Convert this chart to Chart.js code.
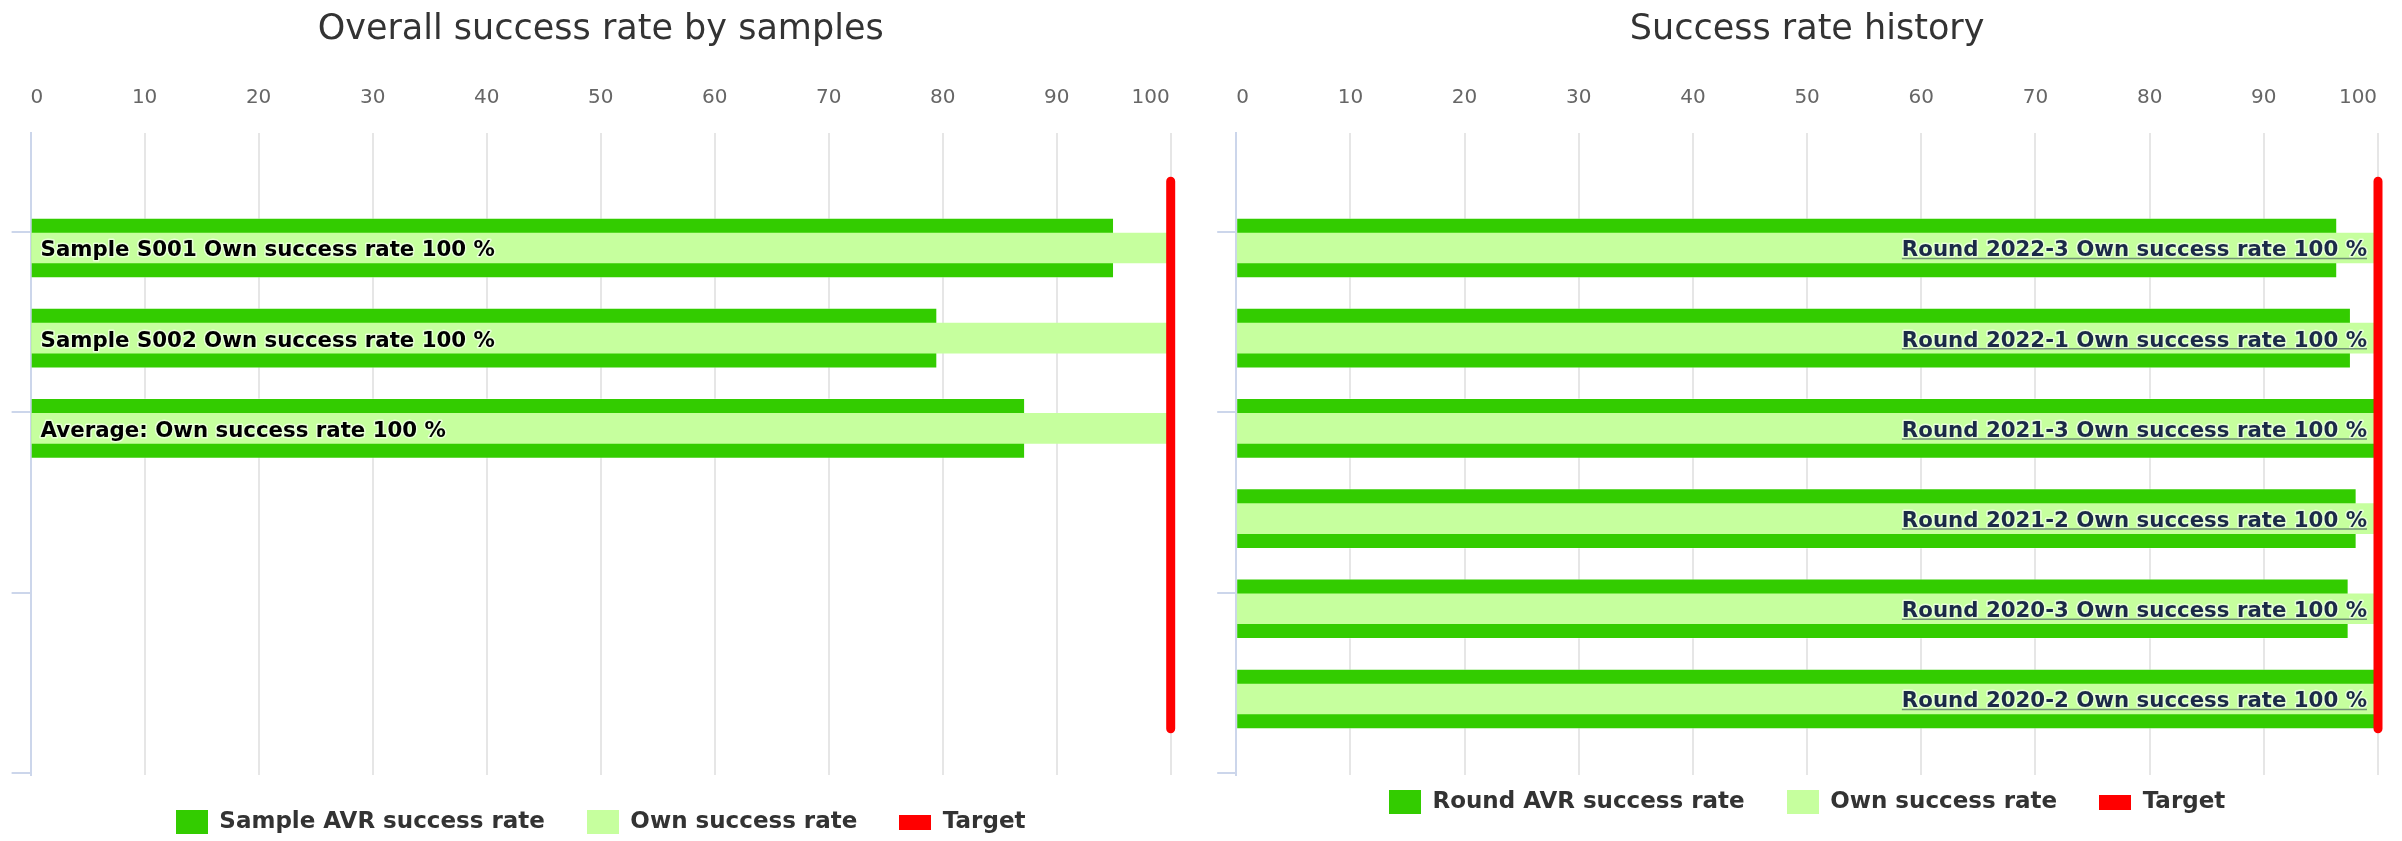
<!DOCTYPE html>
<html>
<head>
<meta charset="utf-8">
<title>Success rate</title>
<script src="https://cdn.jsdelivr.net/npm/chart.js@4.4.1/dist/chart.umd.min.js"></script>
<style>
  html, body { margin: 0; padding: 0; background: #fff; }
  .charts { display: flex; width: 2402px; height: 841px; }
  canvas { display: block; }
</style>
</head>
<body>
<div class="charts">
  <canvas id="SampleRateChart" width="1201" height="841"></canvas>
  <canvas id="RoundRateChart" width="1201" height="841"></canvas>
</div>
<script>
// overall success rate by samples
const sampleLabels = ["Sample S001", "Sample S002", "Average:"];
const sampleAvrRate = [95.0, 79.5, 87.2];
const sampleOwnRate = [100, 100, 100];

// success rate history
const roundLabels = ["Round 2022-3", "Round 2022-1", "Round 2021-3", "Round 2021-2", "Round 2020-3", "Round 2020-2"];
const roundAvrRate = [96.4, 97.6, 100, 98.1, 97.4, 100];
const roundOwnRate = [100, 100, 100, 100, 100, 100];

const targetRate = 100;
const targetSpan = [-0.74, 5.33]; // rows covered by the target line
const rowRange = [-1.275, 5.843];
const rowTicks = [-0.18, 1.82, 3.82, 5.82];

Chart.defaults.font.family = "'DejaVu Sans', sans-serif";
Chart.defaults.color = "#666666";

function legendIcon(color, w, h) {
  const c = document.createElement("canvas");
  c.width = w;
  c.height = h;
  const g = c.getContext("2d");
  g.fillStyle = color;
  g.fillRect(0, 0, w, h);
  return c;
}

// text inside the "own" bars
const rowLabels = {
  id: "rowLabels",
  afterDatasetsDraw: function (chart, args, opts) {
    const ctx = chart.ctx;
    const ds = chart.data.datasets[opts.dataset];
    const meta = chart.getDatasetMeta(opts.dataset);
    ctx.save();
    ctx.font = "bold 21.3px 'DejaVu Sans'";
    ctx.textBaseline = "alphabetic";
    ctx.textAlign = "left";
    ctx.lineJoin = "round";
    meta.data.forEach(function (bar, i) {
      const text = chart.data.labels[i] + " " + ds.label + " " + ds.data[i].x + " %";
      const w = ctx.measureText(text).width;
      const x = opts.align === "right" ? bar.x - 11 - w : bar.base + 9;
      const y = bar.y + 8.5;
      ctx.lineWidth = 3;
      ctx.strokeStyle = "rgba(255,255,255,0.6)";
      ctx.strokeText(text, x, y);
      ctx.fillStyle = opts.color;
      ctx.fillText(text, x, y);
      if (opts.underline) {
        ctx.beginPath();
        ctx.lineWidth = 1.5;
        ctx.strokeStyle = "rgba(27,42,72,0.5)";
        ctx.moveTo(x, y + 2);
        ctx.lineTo(x + w, y + 2);
        ctx.stroke();
      }
    });
    ctx.restore();
  },
};

// legend sits a bit closer to the plot than its padding allows
const legendShift = {
  id: "legendShift",
  afterLayout: function (chart, args, opts) {
    chart.legend.top -= opts.up;
    chart.legend.bottom -= opts.up;
  },
};

function buildChart(canvasId, cfg) {
  const el = document.getElementById(canvasId);
  return new Chart(el, {
    type: "bar",
    data: {
      labels: cfg.labels,
      datasets: [
        {
          label: cfg.avrName,
          data: cfg.avr.map(function (v, i) { return { x: v, y: i }; }),
          backgroundColor: "#33cc00",
          borderColor: "rgba(255,255,255,0.35)",
          borderWidth: 1,
          barThickness: 60,
          grouped: false,
          order: 2,
        },
        {
          label: "Own success rate",
          data: cfg.own.map(function (v, i) { return { x: v, y: i }; }),
          backgroundColor: "#c6ff9e",
          barThickness: 30,
          grouped: false,
          order: 1,
        },
        {
          type: "line",
          label: "Target",
          indexAxis: "y",
          data: [
            { x: targetRate, y: targetSpan[0] },
            { x: targetRate, y: targetSpan[1] },
          ],
          borderColor: "#ff0000",
          backgroundColor: "#ff0000",
          borderWidth: 9,
          borderCapStyle: "round",
          pointRadius: 0,
          clip: false,
          order: 0,
        },
      ],
    },
    options: {
      responsive: false,
      animation: false,
      indexAxis: "y",
      layout: { padding: { left: cfg.padLeft, right: cfg.padRight, top: 0, bottom: -9 } },
      scales: {
        x: {
          type: "linear",
          position: "top",
          min: 0,
          max: 100,
          afterFit: function (axis) {
            axis.paddingLeft = 0;
            axis.paddingRight = 0;
          },
          ticks: {
            stepSize: 10,
            padding: 23,
            autoSkip: false,
            maxRotation: 0,
            color: "#666666",
            font: { size: 20 },
            callback: function (v) {
              if (v === 0) return "  0";
              if (v === 100) return "100\u2003\u2003";
              return v;
            },
          },
          grid: {
            color: function (c) {
              return c.tick && c.tick.value === 0 ? "rgba(0,0,0,0)" : "#e6e6e6";
            },
            lineWidth: 2,
            drawTicks: false,
          },
          border: { display: false },
        },
        y: {
          type: "linear",
          reverse: true,
          offset: false,
          min: rowRange[0],
          max: rowRange[1],
          afterBuildTicks: function (axis) {
            axis.ticks = rowTicks.map(function (v) { return { value: v }; });
          },
          ticks: { display: false },
          grid: {
            offset: false,
            drawOnChartArea: false,
            drawTicks: true,
            tickLength: 19,
            color: "#ccd6eb",
            lineWidth: 2,
          },
          border: { color: "#ccd6eb", width: 2 },
        },
      },
      plugins: {
        title: {
          display: true,
          text: cfg.title,
          fullSize: false,
          color: "#333333",
          font: { size: 35, weight: "normal" },
          padding: { top: 9, bottom: 12 },
        },
        legend: {
          position: "bottom",
          fullSize: false,
          labels: {
            usePointStyle: true,
            pointStyleWidth: 32,
            padding: 42,
            color: "#333333",
            font: { size: 23, weight: "bold" },
            generateLabels: function (chart) {
              return chart.data.datasets.map(function (ds, i) {
                return {
                  text: ds.label,
                  fontColor: "#333333",
                  pointStyle: legendIcon(ds.backgroundColor, 32, ds.type === "line" ? 15 : 24),
                  datasetIndex: i,
                  hidden: !chart.isDatasetVisible(i),
                  lineWidth: 0,
                };
              });
            },
          },
        },
        tooltip: { enabled: false },
        rowLabels: cfg.rowLabels,
        legendShift: { up: cfg.legendUp },
      },
    },
    plugins: [rowLabels, legendShift],
  });
}

document.addEventListener("DOMContentLoaded", function () {
  // samples chart
  buildChart("SampleRateChart", {
    title: "Overall success rate by samples",
    labels: sampleLabels,
    avr: sampleAvrRate,
    own: sampleOwnRate,
    avrName: "Sample AVR success rate",
    padLeft: 11.6,
    padRight: 30.3,
    legendUp: 6.5,
    rowLabels: { dataset: 1, align: "left", color: "#000000", underline: false },
  });

  // history chart
  buildChart("RoundRateChart", {
    title: "Success rate history",
    labels: roundLabels,
    avr: roundAvrRate,
    own: roundOwnRate,
    avrName: "Round AVR success rate",
    padLeft: 16.2,
    padRight: 24,
    legendUp: 26.5,
    rowLabels: { dataset: 1, align: "right", color: "#1b2a48", underline: true },
  });
});
</script>
</body>
</html>
